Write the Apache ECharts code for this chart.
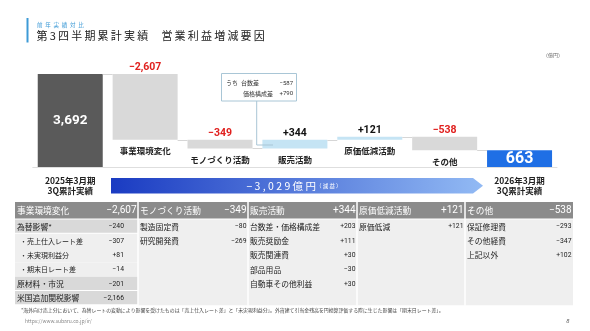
<!DOCTYPE html>
<html><head><meta charset="utf-8">
<script src="https://cdn.jsdelivr.net/npm/echarts@6/dist/echarts.min.js"></script>
<style>html,body{margin:0;padding:0;background:#fff}#c{width:590px;height:331px}</style>
</head><body><div id="c"></div>
<script>
// ---- data ----
const categories = ['前年実績', '事業環境変化', 'モノづくり活動', '販売活動', '原価低減活動', 'その他', '当年実績'];
const startValue = 3692;
const deltas = [-2607, -349, 344, 121, -538];
const endValue = 663;
const xTickLabels = ['2025年3月期\n3Q累計実績', '', '', '', '', '', '2026年3月期\n3Q累計実績'];
const calloutRows = [['うち', '台数差', '−587'], ['', '価格構成差', '+790']];
const bannerMain = '−3,029億円';
const bannerSub = '（減益）';
const tableHeaders = ['事業環境変化', 'モノづくり活動', '販売活動', '原価低減活動', 'その他'];
const tableHeaderValues = ['−2,607', '−349', '+344', '+121', '−538'];
const col1Rows = [['為替影響*', '−240', 'main'], ['・売上仕入レート差', '−307', 'sub'], ['・未実現利益分', '+81', 'sub'], ['・期末日レート差', '−14', 'sub'], ['原材料・市況', '−201', 'main'], ['米国追加関税影響', '−2,166', 'main']];
const col2Rows = [['製造固定費', '−80'], ['研究開発費', '−269']];
const col3Rows = [['台数差・価格構成差', '+203'], ['販売奨励金', '+111'], ['販売関連費', '+30'], ['部品用品', '−30'], ['自動車その他利益', '+30']];
const col4Rows = [['原価低減', '+121']];
const col5Rows = [['保証修理費', '−293'], ['その他経費', '−347'], ['上記以外', '+102']];
const footnote = '*海外向け売上分において、為替レートの変動により影響を受けたものは「売上仕入レート差」と「未実現利益分」。外貨建て引当金残高を円換算評価する際に生じた影響は「期末日レート差」。';
const url = 'https://www.subaru.co.jp/ir/';

// ---- derived ----
const JP = "'Noto Sans CJK JP', sans-serif";
const NUM = "Roboto, 'Liberation Sans', sans-serif";
const fmt = (v, sign) => (sign ? (v < 0 ? '−' : '+') : '') + Math.abs(v).toLocaleString('en-US');
const cum = [startValue];
deltas.forEach(d => cum.push(cum[cum.length - 1] + d));
const baseData = [0], barData = [startValue];
deltas.forEach((d, i) => { baseData.push(d < 0 ? cum[i] + d : cum[i]); barData.push(Math.abs(d)); });
baseData.push(0); barData.push(endValue);
const connectors = cum.map((v, i) => [i, v]);

const chart = echarts.init(document.getElementById('c'), null, {renderer: 'canvas', width: 590, height: 331});

const g = [];
// title
g.push({type: 'rect', shape: {x: 26.5, y: 18, width: 2, height: 24.5}, style: {fill: '#3d9ad6'}});
g.push({type: 'text', x: 37, y: 24.5, style: {text: '前\u2002年\u2002実\u2002績\u2002対\u2002比', font: '5.5px ' + JP, fill: '#3d9ad6', verticalAlign: 'middle'}});
g.push({type: 'text', x: 36.5, y: 35.5, style: {text: '第\u20093\u2009四\u2009半\u2009期\u2009累\u2009計\u2009実\u2009績\u3000\u2009営\u2009業\u2009利\u2009益\u2009増\u2009減\u2009要\u2009因', font: '11px ' + JP, fill: '#222', verticalAlign: 'middle'}});
g.push({type: 'text', x: 553, y: 55, style: {text: '（億円）', font: '5px ' + JP, fill: '#666', align: 'center', verticalAlign: 'middle'}});
// callout
g.push({type: 'polyline', shape: {points: [[256.7, 101], [256.7, 145], [273, 145]]}, style: {stroke: '#a9c6d6', lineWidth: 1, fill: null}, z: 20});
g.push({type: 'rect', shape: {x: 221.5, y: 73.5, width: 75, height: 27.5}, style: {fill: '#fff', stroke: '#a9c6d6', lineWidth: 1}, z: 20});
calloutRows.forEach((r, k) => {
  const y = 83 + k * 10.5;
  if (r[0]) g.push({type: 'text', x: 226, y, style: {text: r[0], font: '6px ' + JP, fill: '#333', verticalAlign: 'middle'}, z: 21});
  g.push({type: 'text', x: k === 0 ? 241 : 243, y, style: {text: r[1], font: '6px ' + JP, fill: '#333', verticalAlign: 'middle'}, z: 21});
  g.push({type: 'text', x: 293, y, style: {text: r[2], font: '6px ' + NUM, fill: '#333', align: 'right', verticalAlign: 'middle'}, z: 21});
});
// banner
g.push({type: 'polygon', shape: {points: [[111, 178], [473, 178], [483, 185.7], [473, 193.4], [111, 193.4]]},
  style: {fill: new echarts.graphic.LinearGradient(0, 0, 1, 0, [{offset: 0, color: '#1a3bc2'}, {offset: 1, color: '#92baf4'}])}});
g.push({type: 'text', x: 294, y: 186, style: {
  text: '{a|' + bannerMain.split('').join(' ') + '}{b|' + bannerSub.split('').join(' ') + '}',
  align: 'center', verticalAlign: 'middle',
  rich: {a: {font: '10.5px ' + JP, fill: '#fff', color: '#fff'}, b: {font: '5.5px ' + JP, fill: '#fff', color: '#fff'}}}});
// table
const colX = [15, 138, 248, 357, 465, 573];
const headTop = 202, headH = 16.5, bodyTop = 219.5, rowH = 14.3, bodyRows = 6;
const cols = [col1Rows, col2Rows, col3Rows, col4Rows, col5Rows];
for (let c = 0; c < 5; c++) {
  const x0 = colX[c], x1 = colX[c + 1];
  g.push({type: 'rect', shape: {x: x0, y: headTop, width: x1 - x0, height: headH}, style: {fill: '#8b8b8b'}});
  g.push({type: 'text', x: x0 + 2, y: headTop + headH / 2, style: {text: tableHeaders[c], font: '8.7px ' + JP, fill: '#fff', verticalAlign: 'middle'}});
  g.push({type: 'text', x: x1 - 1.5, y: headTop + headH / 2, style: {text: tableHeaderValues[c], font: '10px ' + NUM, fill: '#fff', align: 'right', verticalAlign: 'middle'}});
  if (c === 0) {
    col1Rows.forEach((r, k) => {
      g.push({type: 'rect', shape: {x: x0, y: bodyTop + k * rowH, width: x1 - x0, height: rowH - (r[2] === 'main' ? 1 : 0)}, style: {fill: r[2] === 'main' ? '#d9d9d9' : '#efefef'}});
    });
  } else {
    g.push({type: 'rect', shape: {x: x0, y: bodyTop, width: x1 - x0, height: rowH * bodyRows}, style: {fill: '#efefef'}});
  }
  cols[c].forEach((r, k) => {
    const y = bodyTop + k * rowH + rowH / 2;
    const isSub = r[2] === 'sub';
    g.push({type: 'text', x: x0 + (isSub ? 5 : 2), y, style: {text: r[0], font: (isSub ? '7px ' : '7.8px ') + JP, fill: '#222', verticalAlign: 'middle'}});
    g.push({type: 'text', x: c === 0 ? x0 + 109 : x1 - 1.5, y, style: {text: r[1], font: '6.8px ' + NUM, fill: '#222', align: 'right', verticalAlign: 'middle'}});
  });
}
for (let c = 1; c < 5; c++) {
  g.push({type: 'rect', shape: {x: colX[c] - 0.75, y: headTop, width: 1.5, height: headH + rowH * bodyRows + 1.5}, style: {fill: '#fff'}, z: 5});
}
g.push({type: 'text', x: 21, y: 310, style: {text: footnote, font: '4.9px ' + JP, fill: '#444', verticalAlign: 'middle'}});
g.push({type: 'text', x: 25, y: 321, style: {text: url, font: '5px ' + JP, fill: '#888', verticalAlign: 'middle'}});
g.push({type: 'text', x: 568, y: 321, style: {text: '8', font: 'italic 6px ' + NUM, fill: '#666', align: 'center', verticalAlign: 'middle'}});

const colorOf = i => i === 0 ? '#5a5a5a' : i === 6 ? '#1f6fe5' : (deltas[i - 1] < 0 ? '#d9d9d9' : '#c5e4f4');

chart.setOption({
  animation: false,
  grid: {left: 32.8, right: 33, top: 74, bottom: 164},
  xAxis: {type: 'category', data: categories, axisTick: {show: false},
    axisLine: {lineStyle: {color: '#dedede', width: 1}},
    axisLabel: {formatter: (v, i) => xTickLabels[i], interval: 0, margin: 9, fontSize: 8.5, lineHeight: 10, fontWeight: 'bold', color: '#222', fontFamily: JP}},
  yAxis: {type: 'value', min: 0, max: startValue, show: false, splitLine: {show: false}},
  series: [
    {type: 'bar', stack: 'w', barWidth: 65, silent: true,
      itemStyle: {color: 'rgba(0,0,0,0)'},
      label: {position: 'insideTop', distance: 7, color: '#222', fontSize: 8.5, fontWeight: 'bold', fontFamily: JP},
      data: baseData.map((v, i) => ({value: v, label: {show: i > 0 && i < 6, formatter: categories[i]}}))},
    {type: 'bar', stack: 'w', barWidth: 65, silent: true,
      data: barData.map((v, i) => {
        const ends = i === 0 || i === 6;
        const label = ends
          ? {show: true, position: 'inside', formatter: fmt(i === 0 ? startValue : endValue, false), color: '#fff', fontSize: i === 0 ? 13.5 : 16, fontWeight: 'bold', fontFamily: NUM}
          : {show: true, position: 'top', distance: 1, formatter: fmt(deltas[i - 1], true), color: deltas[i - 1] < 0 ? '#e0201e' : '#111', fontSize: 10.5, fontWeight: 'bold', fontFamily: NUM};
        return {value: v, itemStyle: {color: colorOf(i)}, label};
      })},
    {type: 'custom', silent: true, z: 3, data: connectors.slice(0, 6), encode: {x: 0, y: 1},
      renderItem: (params, api) => {
        const i = api.value(0), lv = api.value(1);
        const p1 = api.coord([i, lv]), p2 = api.coord([i + 1, lv]);
        const half = 32.5;
        return {type: 'line', shape: {x1: p1[0] + half, y1: Math.round(p1[1]) + 0.5, x2: p2[0] - half, y2: Math.round(p1[1]) + 0.5}, style: {stroke: '#d6d6d6', lineWidth: 1}};
      }}
  ],
  graphic: g
});
</script></body></html>
